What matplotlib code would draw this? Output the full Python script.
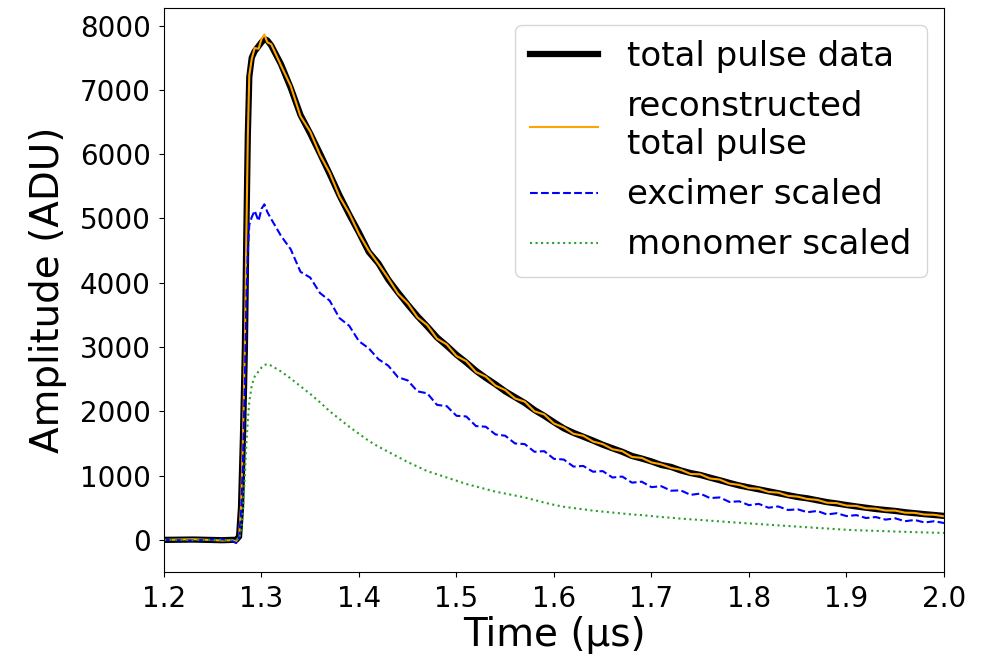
import matplotlib
matplotlib.use("Agg")
import matplotlib.pyplot as plt

# time axis (us) shared by all traces
time_us = [
    1.200, 1.230, 1.260, 1.270, 1.274, 1.277, 1.279, 1.281, 1.283, 1.2845,
    1.286, 1.2875, 1.290, 1.293, 1.297, 1.300, 1.303, 1.306,
    1.31, 1.32, 1.33, 1.34, 1.35, 1.36, 1.37, 1.38, 1.39, 1.40,
    1.41, 1.42, 1.43, 1.44, 1.45, 1.46, 1.47, 1.48, 1.49, 1.50,
    1.51, 1.52, 1.53, 1.54, 1.55, 1.56, 1.57, 1.58, 1.59, 1.60,
    1.61, 1.62, 1.63, 1.64, 1.65, 1.66, 1.67, 1.68, 1.69, 1.70,
    1.71, 1.72, 1.73, 1.74, 1.75, 1.76, 1.77, 1.78, 1.79, 1.80,
    1.81, 1.82, 1.83, 1.84, 1.85, 1.86, 1.87, 1.88, 1.89, 1.90,
    1.91, 1.92, 1.93, 1.94, 1.95, 1.96, 1.97, 1.98, 1.99, 2.00,
]

total_data = [
    0, 5, -5, 0, 0, 50, 500, 1600, 3000, 4800,
    6300, 7200, 7500, 7600, 7680, 7740, 7790, 7770,
    7690, 7400, 7030, 6610, 6320, 6010, 5690, 5360, 5060, 4780,
    4480, 4300, 4050, 3850, 3660, 3480, 3320, 3150, 3020, 2880,
    2760, 2630, 2520, 2420, 2310, 2220, 2130, 2020, 1930, 1830,
    1735, 1665, 1605, 1545, 1480, 1425, 1370, 1305, 1265, 1220,
    1165, 1135, 1080, 1040, 1010, 968, 928, 886, 846, 816,
    786, 756, 726, 696, 666, 646, 616, 587, 566, 542,
    520, 500, 480, 465, 450, 430, 415, 400, 387, 373,
]

reconstructed = [
    0, 10, -10, -5, -20, 40, 520, 1580, 3050, 4750,
    6280, 7230, 7480, 7650, 7640, 7790, 7860, 7740,
    7710, 7380, 7060, 6590, 6350, 5990, 5710, 5340, 5080, 4760,
    4500, 4290, 4070, 3830, 3680, 3460, 3340, 3130, 3040, 2860,
    2780, 2610, 2540, 2400, 2330, 2200, 2150, 2000, 1950, 1810,
    1750, 1650, 1620, 1530, 1490, 1410, 1380, 1290, 1275, 1205,
    1175, 1120, 1090, 1025, 1020, 955, 938, 875, 855, 805,
    795, 745, 735, 685, 672, 636, 622, 578, 572, 533,
    528, 492, 486, 457, 455, 423, 420, 394, 390, 366,
]

excimer_scaled = [
    0, -10, 10, -20, -50, 30, 400, 1200, 2500, 3700,
    4500, 4900, 5020, 5120, 4960, 5150, 5220, 5100,
    4990, 4730, 4520, 4170, 4080, 3840, 3720, 3450, 3330, 3090,
    2980, 2810, 2710, 2530, 2480, 2310, 2280, 2100, 2080, 1930,
    1920, 1770, 1760, 1640, 1620, 1500, 1490, 1370, 1380, 1260,
    1250, 1140, 1150, 1060, 1070, 970, 985, 890, 905, 820,
    835, 765, 770, 700, 720, 650, 660, 590, 600, 540,
    560, 500, 520, 465, 475, 430, 450, 395, 415, 370,
    385, 340, 355, 315, 335, 290, 310, 270, 290, 262,
]

monomer_scaled = [
    0, 0, 0, 0, 0, 20, 150, 450, 1000, 1500,
    1850, 2150, 2400, 2540, 2620, 2680, 2720, 2735,
    2710, 2620, 2510, 2390, 2270, 2140, 2000, 1880, 1760, 1650,
    1540, 1450, 1370, 1290, 1210, 1140, 1070, 1020, 970, 920,
    870, 830, 790, 750, 720, 690, 660, 620, 580, 545,
    515, 495, 475, 455, 440, 425, 410, 395, 385, 370,
    355, 345, 330, 320, 310, 298, 288, 276, 266, 256,
    246, 236, 226, 216, 206, 196, 186, 177, 166, 157,
    150, 145, 140, 135, 130, 125, 120, 116, 112, 108,
]

fig = plt.figure(figsize=(9.89, 6.59), dpi=100)
ax = fig.add_axes([0.1658, 0.132, 0.7887, 0.856])

ax.plot(time_us, total_data, color="k", lw=4.5, label="total pulse data")
ax.plot(time_us, reconstructed, color="orange", lw=1.5,
        label="reconstructed\ntotal pulse")
ax.plot(time_us, excimer_scaled, color="b", ls="--", lw=1.5,
        label="excimer scaled")
ax.plot(time_us, monomer_scaled, color="tab:green", ls=":", lw=1.5,
        label="monomer scaled")

ax.set_xlim(1.2, 2.0)
ax.set_ylim(-500, 8275)
ax.set_xticks([1.2, 1.3, 1.4, 1.5, 1.6, 1.7, 1.8, 1.9, 2.0])
ax.set_yticks([0, 1000, 2000, 3000, 4000, 5000, 6000, 7000, 8000])
ax.tick_params(labelsize=20, pad=6)
ax.set_xlabel("Time (µs)", fontsize=28, labelpad=2)
ax.set_ylabel("Amplitude (ADU)", fontsize=28, labelpad=9)
leg = ax.legend(loc="upper right", fontsize=24.5, handlelength=2.0,
                borderpad=0.45, handletextpad=0.85, borderaxespad=0.5)

fig.savefig("out.png", dpi=100)
